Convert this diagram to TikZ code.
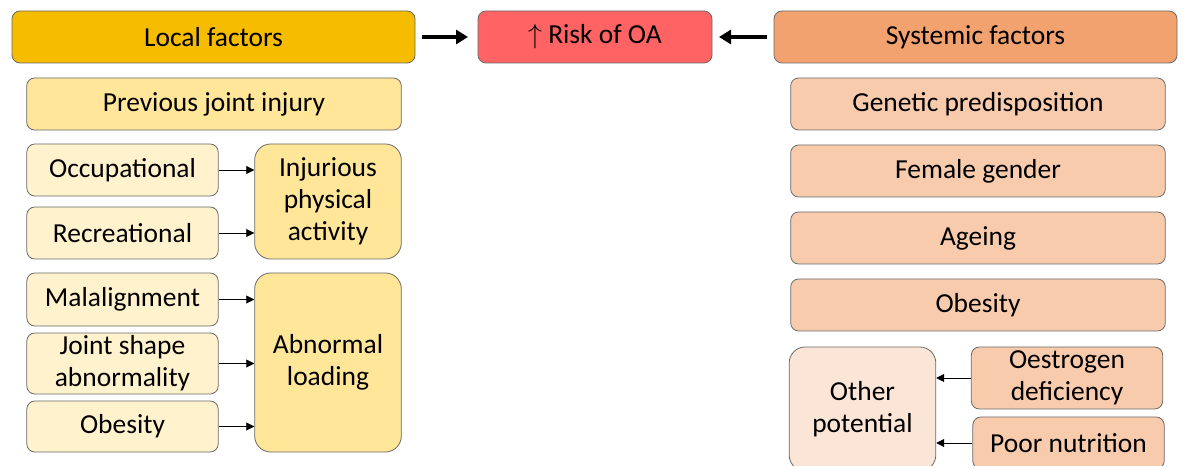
\documentclass[tikz,border=0pt]{standalone}
\usepackage{fontspec}
\setmainfont{Carlito}
\usepackage{tikz}
\usetikzlibrary{arrows.meta}
\definecolor{LocalHead}{RGB}{245,188,0}
\definecolor{LocalMain}{RGB}{255,230,153}
\definecolor{LocalSub}{RGB}{255,242,204}
\definecolor{RiskRed}{RGB}{255,99,99}
\definecolor{SysHead}{RGB}{241,162,110}
\definecolor{SysMain}{RGB}{248,203,173}
\definecolor{SysSub}{RGB}{251,229,214}
\definecolor{Edge}{RGB}{105,105,105}
\tikzset{
  box/.style={draw=Edge, line width=0.6pt, rounded corners=6pt, align=center, inner sep=0pt,
    font=\fontsize{20.6}{24.2}\selectfont},
  head/.style={box, minimum width=302.25pt, minimum height=39pt},
  wide/.style={box, minimum width=281pt, minimum height=39pt},
  small/.style={box, minimum width=143.5pt},
  big/.style={box, rounded corners=12pt, minimum width=110pt},
  bigarrow/.style={line width=3pt, -{Triangle[length=9pt,width=10.5pt]}},
  thinarrow/.style={line width=0.7pt, -{Triangle[length=6pt,width=6pt]}}
}
\begin{document}
\begin{tikzpicture}[x=0.75pt,y=-0.75pt]
\clip (0,0) rectangle (1186,466);
% top row
\node[head, fill=LocalHead] (local) at (213.5,37) {Local factors};
\node[box, fill=RiskRed, minimum width=175.5pt, minimum height=39pt] (risk) at (595,37) {$\uparrow$ Risk of OA};
\node[head, fill=SysHead] (systemic) at (975.5,37) {Systemic factors};
\draw[bigarrow] (local.east) ++(7,0) coordinate (la) -- (risk.west -| 468,0) coordinate (lb);
\draw[bigarrow] (systemic.west) ++(-7,0) coordinate (ra) -- (risk.east -| 719,0) coordinate (rb);
% local factors
\node[wide, fill=LocalMain] (prev) at (214,104) {Previous joint injury};
\node[small, fill=LocalSub, minimum height=39pt] (occ) at (122.5,170) {Occupational};
\node[small, fill=LocalSub, minimum height=39pt] (rec) at (122.5,233) {Recreational};
\node[big, fill=LocalMain, minimum height=86.25pt] (inj) at (328,201.5) {Injurious\\physical\\activity};
\node[small, fill=LocalSub, minimum height=39.75pt] (malal) at (122.5,299.5) {Malalignment};
\node[small, fill=LocalSub, minimum height=45.75pt] (shape) at (122.5,363.5) {Joint shape\\abnormality};
\node[small, fill=LocalSub, minimum height=38.25pt] (obloc) at (122.5,426.5) {Obesity};
\node[big, fill=LocalMain, minimum height=134.25pt] (abn) at (328,362.5) {Abnormal\\loading};
\draw[thinarrow] (occ.east) -- (occ.east -| inj.west);
\draw[thinarrow] (rec.east) -- (rec.east -| inj.west);
\draw[thinarrow] (malal.east) -- (malal.east -| abn.west);
\draw[thinarrow] (shape.east) -- (shape.east -| abn.west);
\draw[thinarrow] (obloc.east) -- (obloc.east -| abn.west);
% systemic factors
\node[wide, fill=SysMain] (genetic) at (978,104) {Genetic predisposition};
\node[wide, fill=SysMain] (female) at (978,171) {Female gender};
\node[wide, fill=SysMain] (ageing) at (978,238) {Ageing};
\node[wide, fill=SysMain] (obsys) at (978,305) {Obesity};
\node[big, fill=SysSub, minimum height=93pt] (other) at (862.5,409) {Other\\potential};
\node[small, fill=SysMain, minimum height=46.5pt] (oestro) at (1067,378) {Oestrogen\\deficiency};
\node[small, fill=SysMain, minimum height=39pt] (poor) at (1068.5,443) {Poor nutrition};
\draw[thinarrow] (oestro.west) -- (oestro.west -| other.east);
\draw[thinarrow] (poor.west) -- (poor.west -| other.east);
\end{tikzpicture}
\end{document}
